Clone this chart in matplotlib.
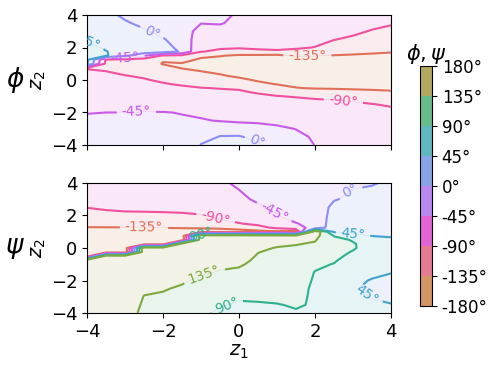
import matplotlib
matplotlib.use("Agg")
import matplotlib.pyplot as plt
import numpy as np
from matplotlib.colors import ListedColormap, BoundaryNorm
from matplotlib.cm import ScalarMappable

plt.rcParams['contour.negative_linestyle'] = 'solid'

# grid of the latent plane
z1 = [-4, -3.5, -3, -2.5, -2, -1.5, -1, -0.5, 0, 0.5, 1, 1.5, 2, 2.5, 3, 3.5, 4]
z2 = [-4, -3.5, -3, -2.5, -2, -1.5, -1, -0.75, -0.5, -0.25, 0, 0.25, 0.5,
      0.75, 1, 1.25, 1.5, 1.75, 2, 2.5, 3, 3.5, 4]

# phi (degrees), one list per z1 column, values along z2
phi_cols = [
    [-25, -30, -35, -40, -46, -52, -60, -64, -68, -72, -76, -80, -86, -92, 50, 55, 56, 55, 52, 42, 32, 24, 18],
    [-30, -34, -38, -42, -45, -55, -63, -68, -72, -77, -81, -85, -89, -95, -100, -94, 50, 46, 42, 32, 25, 18, 12],
    [-33, -36, -40, -43, -45, -56, -65, -70, -75, -80, -85, -89, -95, -100, -105, -100, 10, 34, 35, 25, 15, 5, -8],
    [-33, -35, -38, -41, -44, -57, -67, -72, -77, -83, -88, -93, -100, -108, -115, -110, -40, 25, 28, 18, 5, -10, -20],
    [-35, -37, -40, -42, -44, -58, -70, -76, -82, -88, -94, -102, -112, -124, -137, -132, -95, 20, 15, 3, -12, -20, -25],
    [-36, -38, -40, -42, -46, -60, -72, -78, -85, -93, -102, -113, -125, -137, -138, -120, -100, -5, -12, -18, -25, -28, -30],
    [2, -15, -30, -42, -52, -65, -78, -85, -89, -98, -108, -120, -133, -145, -150, -142, -125, -88, -80, -72, -60, -44, -35],
    [12, 2, -18, -47, -58, -68, -79, -85, -91, -100, -115, -130, -142, -150, -152, -145, -133, -98, -85, -75, -60, -42, -36],
    [12, 3, -20, -52, -62, -70, -80, -86, -93, -105, -125, -142, -150, -155, -157, -152, -140, -110, -85, -75, -65, -55, -50],
    [5, -10, -30, -52, -63, -72, -84, -93, -105, -125, -140, -150, -155, -158, -160, -155, -142, -100, -82, -72, -65, -58, -52],
    [-15, -25, -38, -55, -64, -74, -89, -100, -115, -137, -145, -153, -158, -160, -162, -157, -145, -95, -82, -74, -68, -62, -57],
    [-25, -35, -46, -58, -66, -77, -92, -105, -133, -145, -152, -157, -160, -162, -162, -152, -130, -100, -85, -76, -70, -64, -60],
    [-46, -50, -55, -62, -70, -80, -95, -110, -138, -148, -155, -159, -162, -163, -163, -155, -132, -105, -91, -80, -73, -67, -63],
    [-55, -58, -62, -67, -73, -82, -97, -112, -140, -150, -157, -161, -163, -164, -164, -157, -137, -115, -102, -89, -80, -73, -68],
    [-60, -63, -66, -70, -76, -85, -100, -118, -142, -152, -158, -162, -164, -165, -165, -158, -140, -122, -110, -95, -84, -77, -72],
    [-64, -67, -70, -74, -80, -89, -105, -122, -145, -153, -159, -163, -165, -166, -166, -160, -142, -128, -118, -104, -92, -82, -76],
    [-67, -70, -73, -77, -83, -93, -108, -128, -147, -155, -160, -164, -166, -167, -167, -162, -145, -132, -122, -110, -98, -87, -80],
]

# psi (degrees), one list per z1 column, values along z2
psi_cols = [
    [150, 152, 155, 158, 161, 165, 170, 174, -176, -170, -163, -157, -150, -145, -140, -136, -128, -118, -108, -89, -80, -74, -70],
    [152, 154, 157, 160, 163, 166, 170, 173, 177, -172, -165, -158, -152, -146, -141, -136, -126, -115, -104, -83, -75, -70, -66],
    [154, 156, 159, 162, 165, 168, 171, 174, 177, -174, -167, -160, -154, -148, -142, -136, -124, -112, -100, -80, -73, -68, -64],
    [125, 130, 134, 140, 147, 154, 160, 164, 168, 172, 177, -172, -164, -156, -148, -136, -127, -115, -97, -82, -72, -66, -62],
    [112, 120, 130, 138, 146, 153, 159, 163, 166, 170, 174, -174, -166, -158, -150, -134, -126, -113, -97, -80, -70, -64, -60],
    [100, 108, 118, 130, 140, 148, 155, 159, 162, 166, 170, 174, -175, -162, -150, -133, -124, -110, -96, -78, -68, -62, -58],
    [95, 100, 108, 118, 128, 140, 148, 152, 156, 160, 164, 168, 172, 176, -150, -132, -120, -107, -92, -75, -64, -58, -54],
    [85, 93, 100, 110, 120, 132, 143, 148, 152, 156, 160, 164, 168, 174, -155, -128, -108, -91, -80, -68, -60, -54, -50],
    [78, 86, 94, 104, 115, 127, 140, 146, 151, 156, 160, 164, 168, 173, -155, -118, -92, -80, -72, -62, -52, -46, -40],
    [80, 87, 95, 103, 110, 117, 124, 128, 132, 136, 142, 150, 158, 168, -150, -102, -82, -72, -64, -50, -40, -34, -30],
    [84, 89, 95, 102, 108, 113, 118, 121, 124, 128, 133, 142, 152, 165, -140, -82, -68, -58, -48, -35, -28, -24, -22],
    [88, 92, 96, 100, 103, 107, 112, 116, 120, 125, 130, 137, 145, 160, -150, -60, -48, -35, -28, -18, -12, -8, -5],
    [88, 88, 86, 85, 87, 89, 95, 102, 110, 118, 125, 131, 138, 150, 175, -30, -25, -20, -16, -10, -6, -3, -1],
    [70, 72, 74, 76, 79, 83, 89, 93, 97, 100, 103, 104, 102, 88, 40, 25, 18, 13, 9, 4, -1, -5, -8],
    [58, 56, 52, 47, 52, 62, 72, 78, 83, 88, 93, 93, 87, 55, 35, 25, 19, 15, 12, 7, 3, 1, -3],
    [52, 48, 44, 40, 43, 52, 62, 67, 72, 75, 77, 74, 64, 44, 32, 25, 20, 16, 13, 9, 5, 2, -1],
    [50, 46, 40, 35, 38, 46, 55, 60, 64, 66, 66, 62, 54, 40, 30, 24, 20, 17, 14, 10, 7, 4, 2],
]

levels = [-180, -135, -90, -45, 0, 45, 90, 135, 180]

band_colors = ['#d49564', '#e47a93', '#e164d6', '#bb88f2',
               '#87a5e6', '#5fb8bd', '#67bd8a', '#b3a95e']
line_colors = ['#d08a40', '#e07058', '#f0509e', '#c85ae8', '#8c8cf5',
               '#3fa3cf', '#2db08e', '#7fa83e', '#d08a40']

# label positions (z1, z2) for each level
phi_labels = {0: [(-2.3, 2.9), (0.5, -3.6)], 45: [(-3.95, 2.5)],
              -45: [(-3.0, 1.4), (-2.7, -1.95)], -135: [(1.8, 1.5)],
              -90: [(2.75, -1.25)]}
psi_labels = {-90: [(-0.6, 2.0)], -45: [(0.9, 2.1)], 0: [(2.9, 3.6)],
              -135: [(-2.5, 1.25)], 90: [(-1.0, 0.8), (-0.35, -3.4)],
              45: [(3.0, 0.85), (3.4, -2.8)], 135: [(-0.9, -1.8)]}

fig = plt.figure(figsize=(4.99, 3.69), dpi=100)
W, H = 499, 369
ax1 = fig.add_axes([87 / W, 1 - 145 / H, 304 / W, 130 / H])
ax2 = fig.add_axes([87 / W, 1 - 313 / H, 304 / W, 130 / H])
cax = fig.add_axes([420 / W, 1 - 306 / H, 12 / W, 240 / H])

X, Y = np.meshgrid(z1, z2)


def draw(ax, cols, labels):
    Z = np.array(cols).T
    ax.contourf(X, Y, Z, levels=levels, colors=band_colors, alpha=0.15)
    # one contour set per level so each can get its own labels
    for lev, col in zip(levels, line_colors):
        cs = ax.contour(X, Y, Z, levels=[lev], colors=[col], linewidths=1.5,
                        linestyles='solid')
        if lev in labels and len(cs.allsegs[0]) > 0:
            ax.clabel(cs, manual=labels[lev], inline=True, fontsize=10,
                      fmt=lambda v: '%d°' % v)
    ax.set_xlim(-4, 4)
    ax.set_ylim(-4, 4)
    ax.set_xticks([-4, -2, 0, 2, 4])
    ax.set_yticks([-4, -2, 0, 2, 4])
    ax.tick_params(labelsize=13)
    ax.set_ylabel('$z_2$', fontsize=14, labelpad=2)


draw(ax1, phi_cols, phi_labels)
draw(ax2, psi_cols, psi_labels)
ax1.set_xticklabels([])
ax2.set_xlabel('$z_1$', fontsize=14, labelpad=1)

fig.text(15 / W, 1 - 80 / H, r'$\phi$', fontsize=19, ha='center', va='center')
fig.text(15 / W, 1 - 248 / H, r'$\psi$', fontsize=19, ha='center', va='center')

sm = ScalarMappable(norm=BoundaryNorm(levels, 8), cmap=ListedColormap(band_colors))
cb = fig.colorbar(sm, cax=cax, ticks=levels)
cb.ax.set_yticklabels(['%d°' % v for v in levels])
cb.ax.tick_params(labelsize=12)
cax.set_title(r'$\phi, \psi$', fontsize=15, pad=2)

fig.savefig('out.png', dpi=100)
